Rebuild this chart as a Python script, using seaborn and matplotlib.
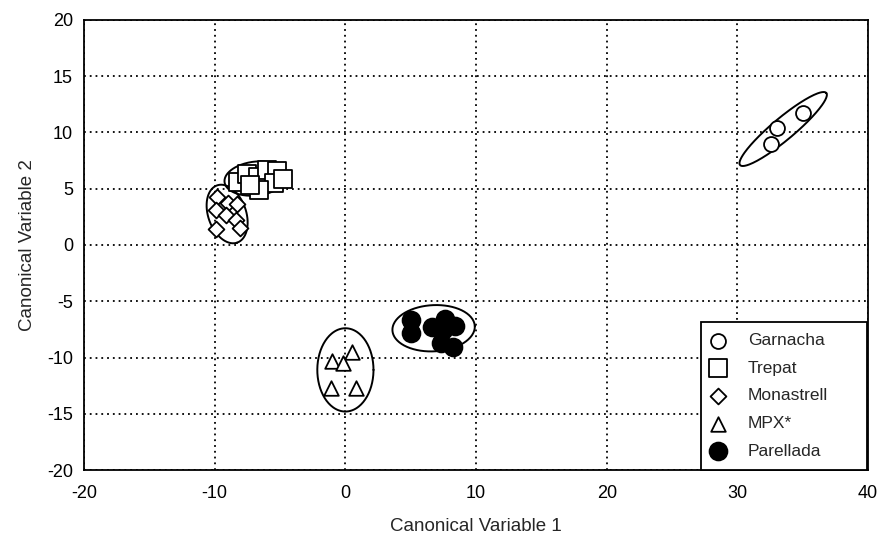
import matplotlib
matplotlib.use("Agg")
import matplotlib.pyplot as plt
import numpy as np
import pandas as pd
import seaborn as sns

### Data
garnacha_x = [32.6, 33.0, 35.0]
garnacha_y = [9.0, 10.4, 11.7]

trepat_x = [-8.2, -7.5, -6.7, -6.0, -5.2, -5.5, -6.6, -7.3, -4.8]
trepat_y = [5.6, 6.3, 6.0, 6.7, 6.6, 5.5, 4.9, 5.3, 5.9]

monastrell_x = [-9.8, -9.0, -8.3, -9.9, -9.1, -8.4, -9.9, -8.1]
monastrell_y = [4.3, 3.7, 3.6, 3.1, 2.7, 2.2, 1.4, 1.5]

mpx_x = [0.5, -1.0, -0.2, -1.1, 0.8]
mpx_y = [-9.5, -10.3, -10.5, -12.7, -12.7]

parellada_x = [5.0, 5.0, 6.6, 7.6, 7.5, 8.4, 7.3, 8.2]
parellada_y = [-6.7, -7.8, -7.3, -6.6, -7.6, -7.2, -8.7, -9.1]

groups = ["Garnacha", "Trepat", "Monastrell", "MPX*", "Parellada"]
markers = {"Garnacha": "o", "Trepat": "s", "Monastrell": "D", "MPX*": "^", "Parellada": "o"}
sizes = {"Garnacha": 115, "Trepat": 150, "Monastrell": 65, "MPX*": 110, "Parellada": 165}
filled = {"Garnacha": False, "Trepat": False, "Monastrell": False, "MPX*": False, "Parellada": True}

# group ellipses: centre and two conjugate semi-axis vectors (data units)
ell_center = [(33.5, 10.3), (-6.85, 5.9), (-9.05, 2.75), (0.0, -11.1), (6.75, -7.4)]
ell_axis1 = [(3.3, 3.2), (2.4, 0.3), (0.75, -2.55), (2.15, 0.0), (3.15, 0.2)]
ell_axis2 = [(0.54, -0.75), (-0.12, 1.5), (1.38, 0.52), (0.0, 3.7), (-0.1, 2.05)]

df = pd.concat([
    pd.DataFrame({"x": garnacha_x, "y": garnacha_y, "group": "Garnacha"}),
    pd.DataFrame({"x": trepat_x, "y": trepat_y, "group": "Trepat"}),
    pd.DataFrame({"x": monastrell_x, "y": monastrell_y, "group": "Monastrell"}),
    pd.DataFrame({"x": mpx_x, "y": mpx_y, "group": "MPX*"}),
    pd.DataFrame({"x": parellada_x, "y": parellada_y, "group": "Parellada"}),
])

sns.set_style("white")
plt.rcParams['font.family'] = ['Liberation Sans', 'DejaVu Sans']
plt.rcParams['axes.unicode_minus'] = False

fig = plt.figure(figsize=(8.8, 5.36), dpi=100)
ax = fig.add_axes([0.0955, 0.123, 0.891, 0.840])

t = np.linspace(0, 2 * np.pi, 200)
for c, a1, a2 in zip(ell_center, ell_axis1, ell_axis2):
    ex = c[0] + a1[0] * np.cos(t) + a2[0] * np.sin(t)
    ey = c[1] + a1[1] * np.cos(t) + a2[1] * np.sin(t)
    ax.plot(ex, ey, color='black', linewidth=1.4, zorder=2)

for g in groups:
    sub = df[df["group"] == g]
    sns.scatterplot(data=sub, x="x", y="y", marker=markers[g], s=sizes[g],
                    facecolor='black' if filled[g] else 'white', edgecolor='black',
                    linewidth=1.3, ax=ax, label=g, zorder=3)

ax.set_xlim(-20, 40)
ax.set_ylim(-20, 20)
ax.set_xticks(np.arange(-20, 41, 10))
ax.set_yticks(np.arange(-20, 21, 5))
ax.grid(True, color='black', linestyle=(0, (1, 2.2)), linewidth=1.3)
for sp in ax.spines.values():
    sp.set_color('black')
    sp.set_linewidth(1.3)
ax.tick_params(axis='both', labelsize=13, colors='black', length=0)
ax.tick_params(axis='x', pad=11)
ax.tick_params(axis='y', pad=8)
ax.set_xlabel("Canonical Variable 1", fontsize=13.5, labelpad=11)
ax.set_ylabel("Canonical Variable 2", fontsize=13.5, labelpad=8)

leg = ax.legend(loc='lower left', bbox_to_anchor=(0.787, 0.0, 0.212, 0.333), mode='expand',
                fontsize=12.5, frameon=True, fancybox=False, borderaxespad=0.0,
                labelspacing=0.72, handletextpad=1.43, borderpad=0.65, handlelength=0.6)
leg.get_frame().set_edgecolor('black')
leg.get_frame().set_linewidth(1.3)
leg.get_frame().set_alpha(1)

fig.savefig("out.png", dpi=100)
